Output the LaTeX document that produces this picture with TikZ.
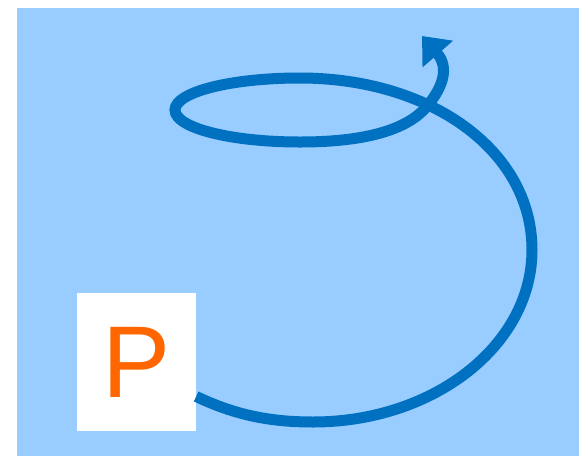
\documentclass[tikz,border=0pt]{standalone}
\usepackage{fontspec}
\setsansfont{Liberation Sans}
\usetikzlibrary{arrows.meta}
\definecolor{skyback}{HTML}{99CCFF}
\definecolor{loopblue}{HTML}{0070C0}
\definecolor{letterorange}{HTML}{FF6600}

\begin{document}
\begin{tikzpicture}[
    x=1pt, y=-1pt,
    curl/.style={draw=loopblue, line width=11pt, -{Triangle[length=24pt, width=39pt]}},
    letterbox/.style={fill=white, minimum width=119pt, minimum height=138pt, inner sep=0pt,
        font=\sffamily\fontsize{102}{102}\selectfont, text=letterorange}
]
    \useasboundingbox (0,0) rectangle (579,456);
    \fill[skyback] (17,8) rectangle (579,456);

    \node[letterbox] (P) at (136.5,362) {P};
    \coordinate (tip) at (422,36);

    % big loop, small ellipse, then out upward
    \draw[curl] (P.-30.5) .. controls (235,415) and (270,422) .. (313,422)
        .. controls (434,422) and (532,345) .. (532,250)
        .. controls (532,150) and (430,78) .. (300,78)
        .. controls (231,78) and (175,92) .. (175,110)
        .. controls (175,128) and (231,142) .. (300,142)
        .. controls (370,142) and (410,128) .. (428,105)
        .. controls (442,88) and (450,68) .. (tip);
\end{tikzpicture}
\end{document}
